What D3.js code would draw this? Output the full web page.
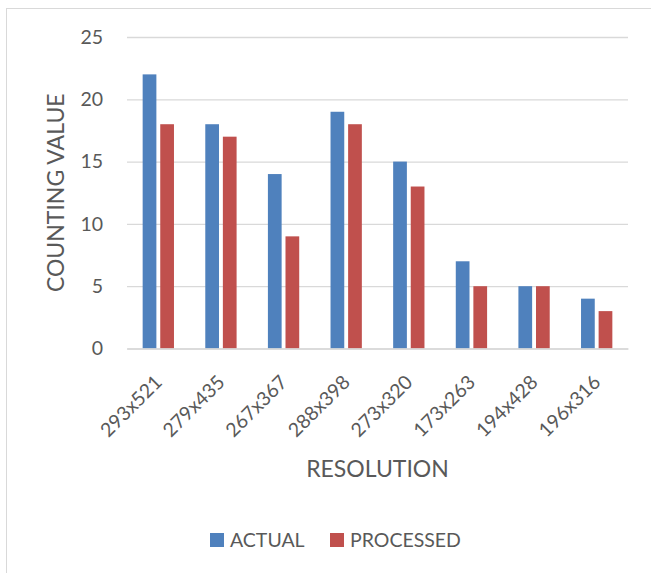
<!DOCTYPE html>
<html>
<head>
<meta charset="utf-8">
<script src="https://cdn.jsdelivr.net/npm/d3@7"></script>
<style>
  html, body { margin: 0; padding: 0; background: #fff; }
  svg { display: block; }
  text { font-family: Lato, "Open Sans", sans-serif; fill: #595959; }
</style>
</head>
<body>
<svg id="chart" width="651" height="573"></svg>
<script>
const categories = ["293x521", "279x435", "267x367", "288x398", "273x320", "173x263", "194x428", "196x316"];
const seriesNames = ["ACTUAL", "PROCESSED"];
const actualValues = [22, 18, 14, 19, 15, 7, 5, 4];
const processedValues = [18, 17, 9, 18, 13, 5, 5, 3];
const yTicks = [0, 5, 10, 15, 20, 25];
const colors = ["#4F81BD", "#C0504D"];
const yTitle = "COUNTING VALUE";
const xTitle = "RESOLUTION";

const svg = d3.select("#chart");
const W = 651, H = 573;
const m = { left: 127, right: 23, top: 37, bottom: 224.5 };
const pw = W - m.left - m.right, ph = H - m.top - m.bottom;

// outer chart border (only left/top visible in the reference)
svg.append("rect").attr("x", 6.5).attr("y", 8.5).attr("width", 700).attr("height", 700)
  .attr("fill", "none").attr("stroke", "#d9d9d9").attr("stroke-width", 1);

const g = svg.append("g").attr("transform", `translate(${m.left},${m.top})`);

const x0 = d3.scaleBand().domain(categories).range([0, pw]).paddingInner(0.5).paddingOuter(0.25);
const x1 = d3.scaleBand().domain(seriesNames).range([0, x0.bandwidth()]).paddingInner(0.22);
const y = d3.scaleLinear().domain([0, 25]).range([ph, 0]);

// gridlines + y tick labels
const yAxis = d3.axisLeft(y).tickValues(yTicks).tickSize(-pw).tickPadding(24).tickFormat(d3.format("d"));
const ya = g.append("g").call(yAxis);
ya.select(".domain").remove();
ya.selectAll(".tick line").attr("stroke", "#d9d9d9").attr("stroke-width", 1.3);
ya.selectAll(".tick text").attr("font-size", 19.5).attr("fill", "#595959")
  .style("font-family", "Lato, 'Open Sans', sans-serif");

const data = categories.map((c, i) => ({ cat: c, vals: [actualValues[i], processedValues[i]] }));

const groups = g.selectAll(".grp").data(data).join("g")
  .attr("transform", d => `translate(${x0(d.cat)},0)`);
groups.selectAll("rect").data(d => d.vals.map((v, j) => ({ s: seriesNames[j], v, j })))
  .join("rect")
  .attr("x", d => x1(d.s))
  .attr("y", d => y(d.v))
  .attr("width", x1.bandwidth())
  .attr("height", d => y(0) - y(d.v))
  .attr("fill", d => colors[d.j]);

// x axis
const xAxis = d3.axisBottom(x0).tickSize(0).tickPadding(0);
const xa = g.append("g").attr("transform", `translate(0,${ph})`).call(xAxis);
xa.select(".domain").attr("stroke", "#d9d9d9").attr("stroke-width", 1.5);
xa.selectAll(".tick text")
  .attr("font-size", 19.5)
  .style("font-family", "Lato, 'Open Sans', sans-serif")
  .attr("fill", "#595959")
  .attr("text-anchor", "end")
  .attr("dy", null)
  .attr("y", 0)
  .attr("transform", "translate(5,35) rotate(-45)");

// axis titles
svg.append("text").attr("transform", `translate(64,${m.top + ph / 2}) rotate(-90)`)
  .attr("text-anchor", "middle").attr("font-size", 23).text(yTitle);
svg.append("text").attr("x", m.left + pw / 2).attr("y", 477)
  .attr("text-anchor", "middle").attr("font-size", 23).text(xTitle);

// legend
const legend = svg.append("g").attr("transform", "translate(210,533)");
const items = [{ n: seriesNames[0], x: 0 }, { n: seriesNames[1], x: 120 }];
items.forEach((it, i) => {
  legend.append("rect").attr("x", it.x).attr("y", 0).attr("width", 14).attr("height", 14).attr("fill", colors[i]);
  legend.append("text").attr("x", it.x + 20).attr("y", 14)
    .attr("font-size", 19.5).text(it.n);
});
</script>
</body>
</html>
